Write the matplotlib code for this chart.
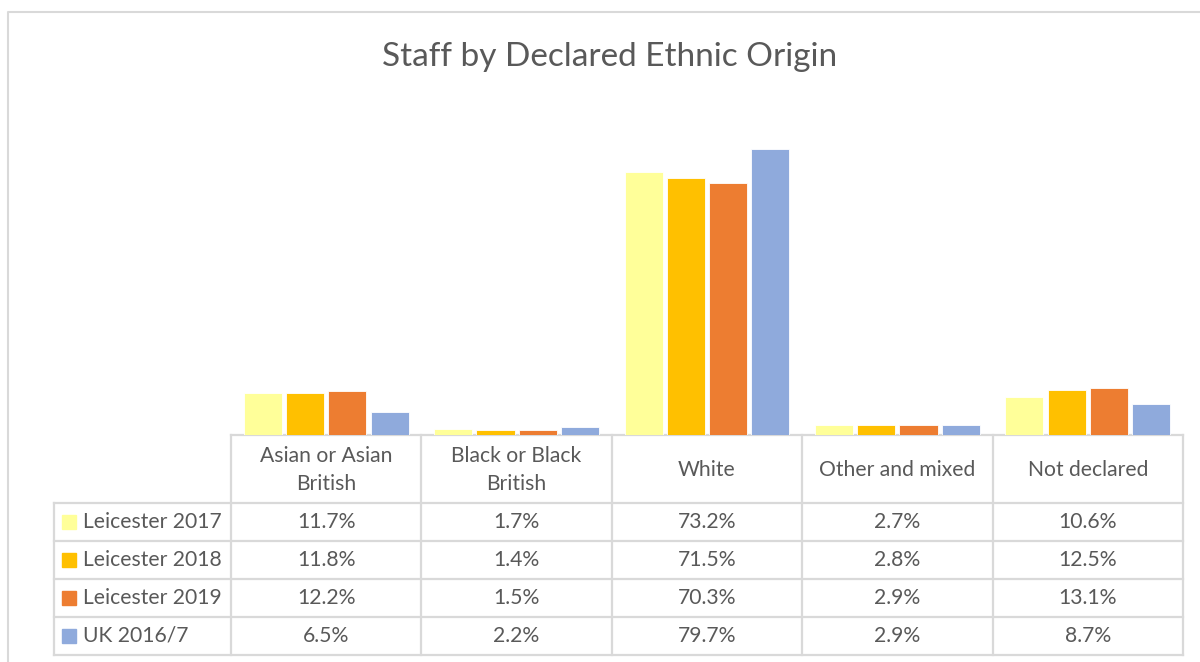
import numpy as np
import matplotlib.pyplot as plt
from matplotlib.patches import Rectangle

plt.rcParams['font.family'] = ['Lato', 'DejaVu Sans']

categories = ["Asian or Asian\nBritish", "Black or Black\nBritish", "White",
              "Other and mixed", "Not declared"]
series = ["Leicester 2017", "Leicester 2018", "Leicester 2019", "UK 2016/7"]
leic_2017 = [11.7, 1.7, 73.2, 2.7, 10.6]
leic_2018 = [11.8, 1.4, 71.5, 2.8, 12.5]
leic_2019 = [12.2, 1.5, 70.3, 2.9, 13.1]
uk_2016 = [6.5, 2.2, 79.7, 2.9, 8.7]
colors = ["#FFFF99", "#FFC000", "#ED7D31", "#8FAADC"]

values = [leic_2017, leic_2018, leic_2019, uk_2016]
text_color = "#595959"
grid_color = "#D9D9D9"

W, H = 1200, 662
fig = plt.figure(figsize=(12, 6.62), dpi=100)

# overlay in pixel coords for the frame and the data table
ov = fig.add_axes([0, 0, 1, 1])
ov.set_xlim(0, W)
ov.set_ylim(H, 0)
ov.axis("off")

# chart frame
ov.plot([8, 8, W + 5], [H + 5, 12, 12], color=grid_color, lw=1.5)

ov.text(610, 57, "Staff by Declared Ethnic Origin", ha="center", va="center",
        fontsize=24, color=text_color)

# bar area
left, right, base, top = 231, 1183, 435, 112
ax = fig.add_axes([left / W, 1 - base / H, (right - left) / W, (base - top) / H])
ax.set_xlim(-0.5, len(categories) - 0.5)
ax.set_ylim(0, 90)
ax.axis("off")
x = np.arange(len(categories))
bw, step = 0.2, 0.222
for i, (vals, c) in enumerate(zip(values, colors)):
    ax.bar(x + (i - 1.5) * step, vals, width=bw, color=c, edgecolor="white", linewidth=0.6)

# data table
col_x = np.linspace(left, right, len(categories) + 1)
row_y = [435, 503, 541, 579, 617, 655]
lw = 1.6
for cx in col_x:
    ov.plot([cx, cx], [row_y[0], row_y[-1]], color=grid_color, lw=lw)
ov.plot([54, 54], [row_y[1], row_y[-1]], color=grid_color, lw=lw)
ov.plot([left, right], [row_y[0]] * 2, color=grid_color, lw=lw)
for ry in row_y[1:]:
    ov.plot([54, right], [ry, ry], color=grid_color, lw=lw)

fs = 15.2
for j, cat in enumerate(categories):
    cx = (col_x[j] + col_x[j + 1]) / 2
    ov.text(cx, (row_y[0] + row_y[1]) / 2 + 1, cat, ha="center", va="center",
            fontsize=fs, color=text_color, linespacing=1.5)

for i, (name, vals, c) in enumerate(zip(series, values, colors)):
    cy = (row_y[i + 1] + row_y[i + 2]) / 2
    ov.add_patch(Rectangle((62, cy - 7), 14, 14, color=c))
    ov.text(83, cy, name, ha="left", va="center", fontsize=fs, color=text_color)
    for j, v in enumerate(vals):
        cx = (col_x[j] + col_x[j + 1]) / 2
        ov.text(cx, cy, f"{v:.1f}%", ha="center", va="center", fontsize=fs, color=text_color)

fig.savefig("out.png", dpi=100)
